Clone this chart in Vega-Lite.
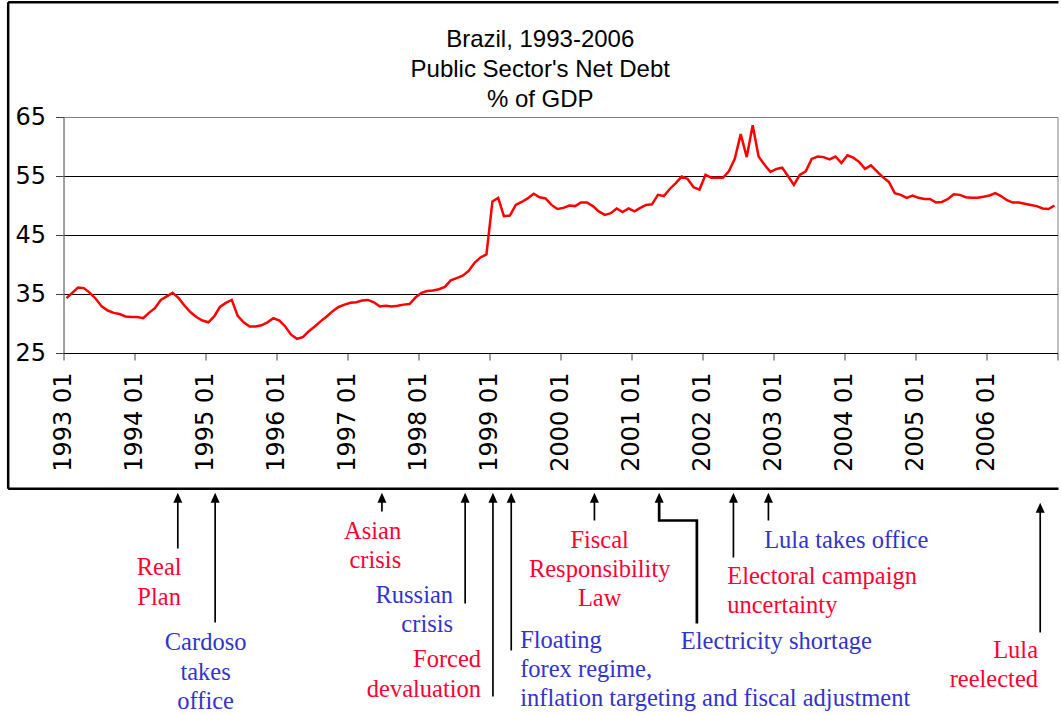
{
  "$schema": "https://vega.github.io/schema/vega-lite/v6.json",
  "padding": {"left": 5.5, "top": 0, "right": 0, "bottom": 0},
  "background": "white",
  "spacing": 0,
  "resolve": {"scale": {"x": "independent", "y": "independent", "color": "independent"}},
  "datasets": {
    "debt": [
      {"month":"1993-01","debt":34.3},{"month":"1993-02","debt":35.2},{"month":"1993-03","debt":36.1},{"month":"1993-04","debt":36.0},{"month":"1993-05","debt":35.2},{"month":"1993-06","debt":34.2},{"month":"1993-07","debt":32.9},{"month":"1993-08","debt":32.2},{"month":"1993-09","debt":31.8},{"month":"1993-10","debt":31.6},{"month":"1993-11","debt":31.2},{"month":"1993-12","debt":31.1},
      {"month":"1994-01","debt":31.1},{"month":"1994-02","debt":30.9},{"month":"1994-03","debt":31.8},{"month":"1994-04","debt":32.6},{"month":"1994-05","debt":34.0},{"month":"1994-06","debt":34.6},{"month":"1994-07","debt":35.2},{"month":"1994-08","debt":34.3},{"month":"1994-09","debt":33.0},{"month":"1994-10","debt":31.9},{"month":"1994-11","debt":31.1},{"month":"1994-12","debt":30.5},
      {"month":"1995-01","debt":30.2},{"month":"1995-02","debt":31.2},{"month":"1995-03","debt":32.8},{"month":"1995-04","debt":33.5},{"month":"1995-05","debt":34.0},{"month":"1995-06","debt":31.3},{"month":"1995-07","debt":30.2},{"month":"1995-08","debt":29.5},{"month":"1995-09","debt":29.5},{"month":"1995-10","debt":29.7},{"month":"1995-11","debt":30.2},{"month":"1995-12","debt":30.9},
      {"month":"1996-01","debt":30.5},{"month":"1996-02","debt":29.5},{"month":"1996-03","debt":28.1},{"month":"1996-04","debt":27.4},{"month":"1996-05","debt":27.7},{"month":"1996-06","debt":28.7},{"month":"1996-07","debt":29.5},{"month":"1996-08","debt":30.4},{"month":"1996-09","debt":31.2},{"month":"1996-10","debt":32.1},{"month":"1996-11","debt":32.8},{"month":"1996-12","debt":33.2},
      {"month":"1997-01","debt":33.5},{"month":"1997-02","debt":33.6},{"month":"1997-03","debt":33.9},{"month":"1997-04","debt":34.0},{"month":"1997-05","debt":33.6},{"month":"1997-06","debt":32.9},{"month":"1997-07","debt":33.0},{"month":"1997-08","debt":32.9},{"month":"1997-09","debt":33.0},{"month":"1997-10","debt":33.2},{"month":"1997-11","debt":33.3},{"month":"1997-12","debt":34.4},
      {"month":"1998-01","debt":35.2},{"month":"1998-02","debt":35.5},{"month":"1998-03","debt":35.6},{"month":"1998-04","debt":35.8},{"month":"1998-05","debt":36.2},{"month":"1998-06","debt":37.3},{"month":"1998-07","debt":37.7},{"month":"1998-08","debt":38.1},{"month":"1998-09","debt":38.9},{"month":"1998-10","debt":40.3},{"month":"1998-11","debt":41.2},{"month":"1998-12","debt":41.7},
      {"month":"1999-01","debt":50.7},{"month":"1999-02","debt":51.3},{"month":"1999-03","debt":48.2},{"month":"1999-04","debt":48.3},{"month":"1999-05","debt":50.1},{"month":"1999-06","debt":50.6},{"month":"1999-07","debt":51.2},{"month":"1999-08","debt":52.0},{"month":"1999-09","debt":51.4},{"month":"1999-10","debt":51.2},{"month":"1999-11","debt":50.1},{"month":"1999-12","debt":49.4},
      {"month":"2000-01","debt":49.6},{"month":"2000-02","debt":50.0},{"month":"2000-03","debt":49.9},{"month":"2000-04","debt":50.5},{"month":"2000-05","debt":50.5},{"month":"2000-06","debt":49.9},{"month":"2000-07","debt":49.0},{"month":"2000-08","debt":48.4},{"month":"2000-09","debt":48.7},{"month":"2000-10","debt":49.5},{"month":"2000-11","debt":48.9},{"month":"2000-12","debt":49.5},
      {"month":"2001-01","debt":49.0},{"month":"2001-02","debt":49.6},{"month":"2001-03","debt":50.1},{"month":"2001-04","debt":50.2},{"month":"2001-05","debt":51.8},{"month":"2001-06","debt":51.6},{"month":"2001-07","debt":52.8},{"month":"2001-08","debt":53.8},{"month":"2001-09","debt":54.9},{"month":"2001-10","debt":54.5},{"month":"2001-11","debt":53.1},{"month":"2001-12","debt":52.7},
      {"month":"2002-01","debt":55.2},{"month":"2002-02","debt":54.7},{"month":"2002-03","debt":54.7},{"month":"2002-04","debt":54.7},{"month":"2002-05","debt":55.8},{"month":"2002-06","debt":57.9},{"month":"2002-07","debt":62.1},{"month":"2002-08","debt":58.2},{"month":"2002-09","debt":63.6},{"month":"2002-10","debt":58.3},{"month":"2002-11","debt":56.9},{"month":"2002-12","debt":55.7},
      {"month":"2003-01","debt":56.2},{"month":"2003-02","debt":56.4},{"month":"2003-03","debt":55.0},{"month":"2003-04","debt":53.5},{"month":"2003-05","debt":55.2},{"month":"2003-06","debt":55.8},{"month":"2003-07","debt":57.9},{"month":"2003-08","debt":58.3},{"month":"2003-09","debt":58.2},{"month":"2003-10","debt":57.8},{"month":"2003-11","debt":58.3},{"month":"2003-12","debt":57.2},
      {"month":"2004-01","debt":58.5},{"month":"2004-02","debt":58.1},{"month":"2004-03","debt":57.4},{"month":"2004-04","debt":56.2},{"month":"2004-05","debt":56.8},{"month":"2004-06","debt":55.8},{"month":"2004-07","debt":54.8},{"month":"2004-08","debt":54.0},{"month":"2004-09","debt":52.1},{"month":"2004-10","debt":51.8},{"month":"2004-11","debt":51.3},{"month":"2004-12","debt":51.7},
      {"month":"2005-01","debt":51.3},{"month":"2005-02","debt":51.1},{"month":"2005-03","debt":51.1},{"month":"2005-04","debt":50.5},{"month":"2005-05","debt":50.6},{"month":"2005-06","debt":51.1},{"month":"2005-07","debt":51.9},{"month":"2005-08","debt":51.8},{"month":"2005-09","debt":51.4},{"month":"2005-10","debt":51.3},{"month":"2005-11","debt":51.3},{"month":"2005-12","debt":51.5},
      {"month":"2006-01","debt":51.7},{"month":"2006-02","debt":52.1},{"month":"2006-03","debt":51.6},{"month":"2006-04","debt":50.9},{"month":"2006-05","debt":50.5},{"month":"2006-06","debt":50.5},{"month":"2006-07","debt":50.3},{"month":"2006-08","debt":50.1},{"month":"2006-09","debt":49.9},{"month":"2006-10","debt":49.5},{"month":"2006-11","debt":49.4},{"month":"2006-12","debt":50.0}
    ],
    "events": [
      {"event":"Real Plan","date":"1994-08-12","head":0.232,"end":1.96},
      {"event":"Cardoso takes office","date":"1995-02-20","head":0.232,"end":4.483},
      {"event":"Asian crisis","date":"1997-06-27","head":0.232,"end":0.699},
      {"event":"Russian crisis","date":"1998-08-29","head":0.232,"end":3.836},
      {"event":"Forced devaluation","date":"1999-01-19","head":0.232,"end":7.006},
      {"event":"Floating forex regime","date":"1999-04-23","head":0.232,"end":5.438},
      {"event":"Fiscal Responsibility Law","date":"2000-06-24","head":0.232,"end":1.006},
      {"event":"Electricity shortage","date":"2001-05-23","head":0.232,"end":1.006},
      {"event":"Electoral campaign uncertainty","date":"2002-06-09","head":0.232,"end":2.267},
      {"event":"Lula takes office","date":"2002-12-06","head":0.232,"end":1.006},
      {"event":"Lula reelected","date":"2006-10-04","head":0.573,"end":4.824}
    ],
    "connector": [
      {"date":"2001-05-23","level":0.232,"step":1},
      {"date":"2001-05-23","level":1.006,"step":2},
      {"date":"2001-12-03","level":1.006,"step":3},
      {"date":"2001-12-03","level":4.518,"step":4}
    ],
    "labels": [
      {"label":"Real\nPlan","date":"1994-05-08","level":2.871,"set":"A","anchor":"center"},
      {"label":"Cardoso\ntakes\noffice","date":"1995-01-02","level":5.428,"set":"B","anchor":"center"},
      {"label":"Asian\ncrisis","date":"1997-10-04","level":1.63,"set":"A","anchor":"right"},
      {"label":"Russian\ncrisis","date":"1998-06-28","level":3.812,"set":"B","anchor":"right"},
      {"label":"Forced\ndevaluation","date":"1998-11-19","level":6.008,"set":"A","anchor":"right"},
      {"label":"Floating\nforex regime,\ninflation targeting and fiscal adjustment","date":"1999-06-08","level":5.336,"set":"B","anchor":"left"},
      {"label":"Fiscal\nResponsibility\nLaw","date":"2000-07-21","level":1.937,"set":"A","anchor":"center"},
      {"label":"Electricity shortage","date":"2001-09-11","level":5.37,"set":"B","anchor":"left"},
      {"label":"Lula takes office","date":"2002-11-14","level":1.937,"set":"B","anchor":"left"},
      {"label":"Electoral campaign\nuncertainty","date":"2002-05-08","level":3.171,"set":"A","anchor":"left"},
      {"label":"Lula\nreelected","date":"2006-09-23","level":5.677,"set":"A","anchor":"right"}
    ]
  },
  "vconcat": [
    {
      "width": 994,
      "height": 236,
      "view": {"stroke": "#808080", "strokeWidth": 1},
      "layer": [
        {
          "data": {"values": [{}]},
          "mark": {"type": "rule", "color": "black", "strokeWidth": 2.5, "clip": false},
          "encoding": {
            "x": {"datum": {"year":1992,"month":3,"date":22,"hours":12,"utc":true}, "type": "temporal", "scale": {"type":"utc","domain":[{"year":1993,"month":1,"date":1,"utc":true},{"year":2007,"month":1,"date":1,"utc":true}],"nice":false}},
            "y": {"datum": 84.46, "type": "quantitative", "scale": {"domain":[25,65],"nice":false,"zero":false}},
            "y2": {"datum": 2.0}
          }
        },
        {
          "data": {"values": [{}]},
          "mark": {"type": "rule", "color": "black", "strokeWidth": 2.5, "clip": false},
          "encoding": {
            "x": {"datum": {"year":1992,"month":3,"date":22,"hours":12,"utc":true}, "type": "temporal", "scale": {"type":"utc","domain":[{"year":1993,"month":1,"date":1,"utc":true},{"year":2007,"month":1,"date":1,"utc":true}],"nice":false}},
            "x2": {"datum": {"year":2007,"month":1,"date":6,"utc":true}},
            "y": {"datum": 84.46, "type": "quantitative", "scale": {"domain":[25,65],"nice":false,"zero":false}}
          }
        },
        {
          "data": {"values": [{}]},
          "mark": {"type": "rule", "color": "black", "strokeWidth": 2.5, "clip": false},
          "encoding": {
            "x": {"datum": {"year":1992,"month":3,"date":22,"hours":12,"utc":true}, "type": "temporal", "scale": {"type":"utc","domain":[{"year":1993,"month":1,"date":1,"utc":true},{"year":2007,"month":1,"date":1,"utc":true}],"nice":false}},
            "x2": {"datum": {"year":2007,"month":1,"date":6,"utc":true}},
            "y": {"datum": 2.0, "type": "quantitative", "scale": {"domain":[25,65],"nice":false,"zero":false}}
          }
        },
        {
          "data": {"values": [{}]},
          "mark": {"type": "text", "font": "Liberation Sans", "fontSize": 24, "color": "black", "align": "center", "baseline": "alphabetic", "lineHeight": 30, "clip": false},
          "encoding": {
            "x": {"datum": {"year":1999,"month":9,"date":19,"hours":5,"utc":true}, "type": "temporal", "scale": {"type":"utc","domain":[{"year":1993,"month":1,"date":1,"utc":true},{"year":2007,"month":1,"date":1,"utc":true}],"nice":false}},
            "y": {"datum": 76.8, "type": "quantitative", "scale": {"domain":[25,65],"nice":false,"zero":false}},
            "text": {"value": ["Brazil, 1993-2006", "Public Sector's Net Debt", "% of GDP"]}
          }
        },
        {
          "data": {"name": "debt"},
          "mark": {"type": "line", "color": "#FF0000", "strokeWidth": 2.5, "clip": false},
          "encoding": {
            "x": {
              "field": "month", "type": "temporal", "timeUnit": "utcyearmonth", "bandPosition": 0.5, "title": null,
              "scale": {"type":"utc","domain":[{"year":1993,"month":1,"date":1,"utc":true},{"year":2007,"month":1,"date":1,"utc":true}],"nice":false},
              "axis": {
                "values": [
                  {"year":1993,"month":1,"date":1,"utc":true},{"year":1994,"month":1,"date":1,"utc":true},{"year":1995,"month":1,"date":1,"utc":true},
                  {"year":1996,"month":1,"date":1,"utc":true},{"year":1997,"month":1,"date":1,"utc":true},{"year":1998,"month":1,"date":1,"utc":true},
                  {"year":1999,"month":1,"date":1,"utc":true},{"year":2000,"month":1,"date":1,"utc":true},{"year":2001,"month":1,"date":1,"utc":true},
                  {"year":2002,"month":1,"date":1,"utc":true},{"year":2003,"month":1,"date":1,"utc":true},{"year":2004,"month":1,"date":1,"utc":true},
                  {"year":2005,"month":1,"date":1,"utc":true},{"year":2006,"month":1,"date":1,"utc":true},{"year":2007,"month":1,"date":1,"utc":true}
                ],
                "labelExpr": "utcyear(datum.value) == 2007 ? '' : utcFormat(datum.value, '%Y %m')",
                "labelAngle": 270,
                "labelFont": "DejaVu Sans",
                "labelFontSize": 24,
                "labelColor": "black",
                "labelPadding": 12,
                "labelFlush": false,
                "labelOverlap": false,
                "labelBound": false,
                "tickSize": 7,
                "tickColor": "#404040",
                "tickWidth": 1,
                "domainColor": "black",
                "domainWidth": 1,
                "grid": false,
                "title": null
              }
            },
            "y": {
              "field": "debt", "type": "quantitative", "title": null,
              "scale": {"domain":[25,65],"nice":false,"zero":false},
              "axis": {
                "values": [25,35,45,55,65],
                "labelFont": "DejaVu Sans",
                "labelFontSize": 24,
                "labelColor": "black",
                "labelPadding": 10,
                "labelFlush": false,
                "labelOverlap": false,
                "tickSize": 8,
                "tickColor": "#404040",
                "domainColor": "#808080",
                "grid": true,
                "gridColor": {"condition": {"test": "datum.value === 65", "value": "#808080"}, "value": "black"},
                "gridWidth": 1,
                "title": null
              }
            }
          }
        }
      ]
    },
    {
      "width": 994,
      "height": 222,
      "view": {"stroke": null},
      "layer": [
        {
          "data": {"name": "events"},
          "mark": {"type": "rule", "color": "black", "strokeWidth": 1.7},
          "encoding": {
            "x": {"field": "date", "type": "temporal", "axis": null, "scale": {"type":"utc","domain":[{"year":1993,"month":1,"date":1,"utc":true},{"year":2007,"month":1,"date":1,"utc":true}],"nice":false}},
            "y": {"field": "head", "type": "quantitative", "axis": null, "scale": {"domain":[0,7.569],"reverse":true,"nice":false,"zero":false}},
            "y2": {"field": "end"}
          }
        },
        {
          "data": {"name": "connector"},
          "mark": {"type": "line", "color": "black", "strokeWidth": 2.7, "strokeJoin": "miter"},
          "encoding": {
            "x": {"field": "date", "type": "temporal", "axis": null, "scale": {"type":"utc","domain":[{"year":1993,"month":1,"date":1,"utc":true},{"year":2007,"month":1,"date":1,"utc":true}],"nice":false}},
            "y": {"field": "level", "type": "quantitative", "axis": null, "scale": {"domain":[0,7.569],"reverse":true,"nice":false,"zero":false}},
            "order": {"field": "step", "type": "quantitative"}
          }
        },
        {
          "data": {"name": "events"},
          "mark": {"type": "point", "shape": "M0,-1L0.9,1L-0.9,1Z", "filled": true, "color": "black", "size": 100, "opacity": 1},
          "encoding": {
            "x": {"field": "date", "type": "temporal", "axis": null, "scale": {"type":"utc","domain":[{"year":1993,"month":1,"date":1,"utc":true},{"year":2007,"month":1,"date":1,"utc":true}],"nice":false}},
            "y": {"field": "head", "type": "quantitative", "axis": null, "scale": {"domain":[0,7.569],"reverse":true,"nice":false,"zero":false}}
          }
        },
        {
          "data": {"name": "labels"},
          "transform": [{"filter": "datum.anchor === 'left'"}],
          "mark": {"type": "text", "align": "left", "baseline": "alphabetic", "font": "Liberation Serif", "fontSize": 24.5, "lineHeight": 29.3, "lineBreak": "\n"},
          "encoding": {
            "x": {"field": "date", "type": "temporal", "axis": null, "scale": {"type":"utc","domain":[{"year":1993,"month":1,"date":1,"utc":true},{"year":2007,"month":1,"date":1,"utc":true}],"nice":false}},
            "y": {"field": "level", "type": "quantitative", "axis": null, "scale": {"domain":[0,7.569],"reverse":true,"nice":false,"zero":false}},
            "text": {"field": "label"},
            "color": {"field": "set", "type": "nominal", "legend": null, "scale": {"domain": ["A","B"], "range": ["#FF0033","#3333CC"]}}
          }
        },
        {
          "data": {"name": "labels"},
          "transform": [{"filter": "datum.anchor === 'center'"}],
          "mark": {"type": "text", "align": "center", "baseline": "alphabetic", "font": "Liberation Serif", "fontSize": 24.5, "lineHeight": 29.3, "lineBreak": "\n"},
          "encoding": {
            "x": {"field": "date", "type": "temporal", "axis": null, "scale": {"type":"utc","domain":[{"year":1993,"month":1,"date":1,"utc":true},{"year":2007,"month":1,"date":1,"utc":true}],"nice":false}},
            "y": {"field": "level", "type": "quantitative", "axis": null, "scale": {"domain":[0,7.569],"reverse":true,"nice":false,"zero":false}},
            "text": {"field": "label"},
            "color": {"field": "set", "type": "nominal", "legend": null, "scale": {"domain": ["A","B"], "range": ["#FF0033","#3333CC"]}}
          }
        },
        {
          "data": {"name": "labels"},
          "transform": [{"filter": "datum.anchor === 'right'"}],
          "mark": {"type": "text", "align": "right", "baseline": "alphabetic", "font": "Liberation Serif", "fontSize": 24.5, "lineHeight": 29.3, "lineBreak": "\n"},
          "encoding": {
            "x": {"field": "date", "type": "temporal", "axis": null, "scale": {"type":"utc","domain":[{"year":1993,"month":1,"date":1,"utc":true},{"year":2007,"month":1,"date":1,"utc":true}],"nice":false}},
            "y": {"field": "level", "type": "quantitative", "axis": null, "scale": {"domain":[0,7.569],"reverse":true,"nice":false,"zero":false}},
            "text": {"field": "label"},
            "color": {"field": "set", "type": "nominal", "legend": null, "scale": {"domain": ["A","B"], "range": ["#FF0033","#3333CC"]}}
          }
        }
      ]
    }
  ]
}
